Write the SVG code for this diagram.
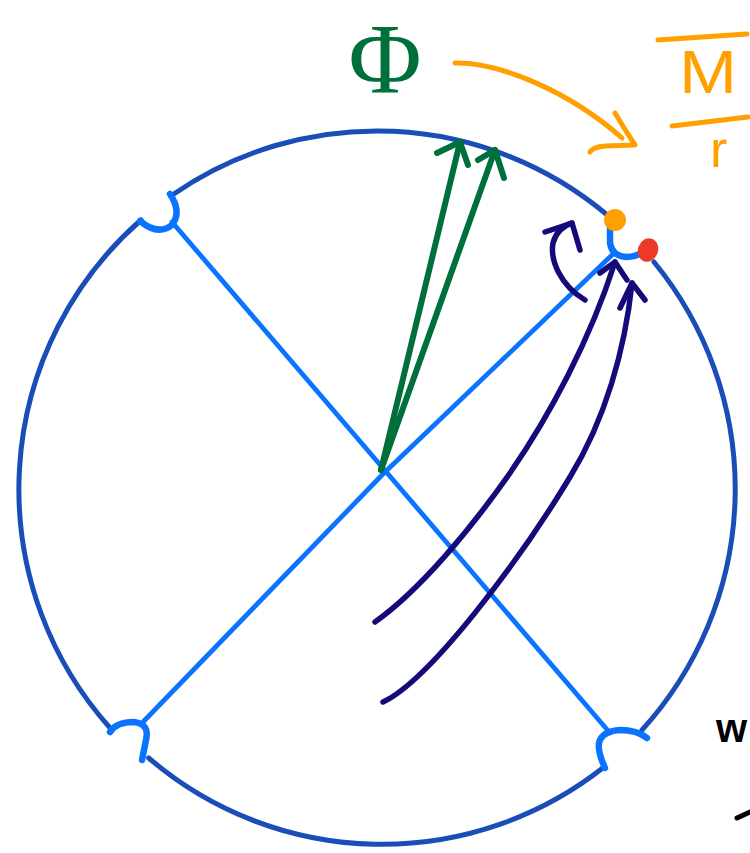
<svg xmlns="http://www.w3.org/2000/svg" width="750" height="853" viewBox="0 0 750 853">
<style>
.s{fill:none;stroke-linecap:round;stroke-linejoin:round}
.circ{stroke:#1a4db8;stroke-width:5}
.dia{stroke:#0a74ff;stroke-width:4.8}
.cup{stroke:#0a74ff;stroke-width:6.5}
.grn{stroke:#00703a;stroke-width:6}
.nav{stroke:#150a7a;stroke-width:5.5}
.org{stroke:#ffa000;stroke-width:5}
</style>
<rect width="750" height="853" fill="#ffffff"/>
<g id="circle">
<path class="s circ" d="M173.8,194 A358,358 0 0 1 606.7,214.5"/>
<path class="s circ" d="M654,262 A358,358 0 0 1 642,730"/>
<path class="s circ" d="M604,767 A358,358 0 0 1 148.7,758"/>
<path class="s circ" d="M111,729 A358,358 0 0 1 141,220"/>
</g>
<g id="diameters">
<path class="s dia" d="M172,222 L610,733"/>
<path class="s dia" d="M143,722 L383,474 L612,255"/>
</g>
<g id="cups">
<path class="s cup" d="M170,194 Q182,212 172,225 Q158,236 140,221"/>
<path class="s cup" d="M110,732 Q116,722 134,722 Q150,724 146,740 L142,760"/>
<path class="s cup" d="M605,768 Q596,748 600,740 Q604,731 620,730 Q637,730 647,738"/>
<path class="s cup" d="M610,227 L610,243 Q612,256 626,257 Q637,257 643,251"/>
</g>
<g id="dots">
<ellipse cx="615" cy="220" rx="11" ry="11" fill="#ffa000"/>
<ellipse cx="648" cy="250" rx="10" ry="12" fill="#ee3a2a" transform="rotate(20 648 250)"/>
</g>
<g id="green-arrows">
<path class="s grn" d="M381,470 L460,142"/>
<path class="s grn" d="M437,153 L460,142 L468,165"/>
<path class="s grn" d="M381,470 L495,150"/>
<path class="s grn" d="M478,160 L495,150 L504,178"/>
</g>
<g id="navy-arrows">
<path class="s nav" d="M375,622 C420,590 470,530 510,473 C550,415 590,340 615,262"/>
<path class="s nav" d="M600,273 L615,262 L627,280"/>
<path class="s nav" d="M383,702 C430,680 520,560 570,477 C605,420 625,350 632,283"/>
<path class="s nav" d="M620,308 L632,283 L645,300"/>
<path class="s nav" d="M585,300 C560,285 550,260 553,243 C556,232 562,226 572,223"/>
<path class="s nav" d="M545,232 L572,223 L580,250"/>
</g>
<g id="orange-arrow">
<path class="s org" d="M455,63 C500,62 570,92 622,138"/>
<path class="s org" d="M615,113 Q625,130 635,145 L605,146 Q593,147 590,152"/>
</g>
<g id="phi">
<text x="385" y="92" font-family="Liberation Serif, serif" font-size="100" fill="#00703a" text-anchor="middle">Φ</text>
</g>
<g id="fraction">
<path class="s org" d="M658,40 L747,34"/>
<text x="679" y="93" font-family="Liberation Sans, sans-serif" font-size="62" fill="#ffa000" textLength="58" lengthAdjust="spacingAndGlyphs">M</text>
<path class="s org" d="M672,126 L748,117"/>
<text x="710" y="167" font-family="Liberation Sans, sans-serif" font-size="52" fill="#ffa000">r</text>
</g>
<g id="edge-text">
<text x="716" y="742" font-family="Liberation Sans, sans-serif" font-size="40" font-weight="bold" fill="#000000">w</text>
<path class="s" stroke="#000000" stroke-width="5" d="M737,818 L750,812"/>
</g>
</svg>
